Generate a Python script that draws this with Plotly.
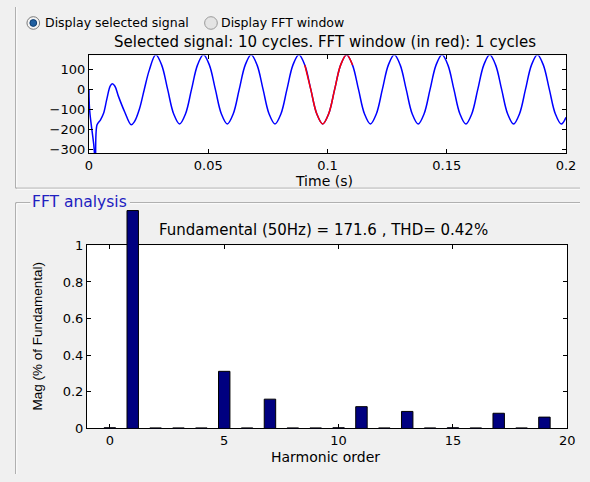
import plotly.graph_objects as go

W, H = 590, 482
FONT = "DejaVu Sans"
FONT_NARROW = "Liberation Sans"

# ---------------- data ----------------
# Selected signal (10 cycles)
time_s = [0.0, 0.0003, 0.002, 0.0027, 0.0034, 0.0048, 0.0061, 0.0075, 0.0089, 0.0098,
          0.0109, 0.0123, 0.015, 0.0177, 0.0191, 0.0212, 0.0232, 0.0253,
          0.028, 0.0305, 0.033, 0.0355, 0.038, 0.0405, 0.043, 0.0455,
          0.048, 0.0505, 0.053, 0.0555, 0.058, 0.0605, 0.063, 0.0655,
          0.068, 0.0705, 0.073, 0.0755, 0.078, 0.0805, 0.083, 0.0855,
          0.088, 0.0905, 0.093, 0.0955, 0.098, 0.1005, 0.103, 0.1055,
          0.108, 0.1105, 0.113, 0.1155, 0.118, 0.1205, 0.123, 0.1255,
          0.128, 0.1305, 0.133, 0.1355, 0.138, 0.1405, 0.143, 0.1455,
          0.148, 0.1505, 0.153, 0.1555, 0.158, 0.1605, 0.163, 0.1655,
          0.168, 0.1705, 0.173, 0.1755, 0.178, 0.1805, 0.183, 0.1855,
          0.188, 0.1905, 0.193, 0.1955, 0.198, 0.2]
signal = [0, -104, -272, -360, -176, -152, -120, -48, 16, 28,
          16, -32, -112, -176, -160, -96, 0, 96,
          172, 121, 0, -121, -172, -121, 0, 121,
          172, 121, 0, -121, -172, -121, 0, 121,
          172, 121, 0, -121, -172, -121, 0, 121,
          172, 121, 0, -121, -172, -121, 0, 121,
          172, 121, 0, -121, -172, -121, 0, 121,
          172, 121, 0, -121, -172, -121, 0, 121,
          172, 121, 0, -121, -172, -121, 0, 121,
          172, 121, 0, -121, -172, -121, 0, 121,
          172, 121, 0, -121, -172, -139]

fft_window = [0.09, 0.111]   # 1 cycle shown in red

time_ticks = [0, 0.05, 0.1, 0.15, 0.2]
time_tick_text = ["0", "0.05", "0.1", "0.15", "0.2"]
sig_ticks = [-300, -200, -100, 0, 100]

harmonic = [0, 1, 2, 3, 4, 5, 6, 7, 8, 9, 10, 11, 12, 13, 14, 15, 16, 17, 18, 19]
mag = [0.004, 1.19, 0.003, 0.003, 0.003, 0.312, 0.003, 0.16, 0.003, 0.003,
       0.004, 0.119, 0.003, 0.093, 0.003, 0.004, 0.003, 0.083, 0.003, 0.062]
harm_ticks = [0, 5, 10, 15, 20]
mag_ticks = [0, 0.2, 0.4, 0.6, 0.8, 1]
mag_tick_text = ["0", "0.2", "0.4", "0.6", "0.8", "1"]

title_top = "Selected signal: 10 cycles. FFT window (in red): 1 cycles"
title_fft = "Fundamental (50Hz) = 171.6 , THD= 0.42%"

# ---------------- helpers ----------------
def px(x):
    return x / W

def py(y):
    return 1 - y / H

# pixel frames of the two axes boxes
TOP = dict(l=87, r=575.7, t=50, b=150.7)
BOT = dict(l=85, r=577, t=246, b=435)
MAG_RANGE = [0, 1]
BAR_TOP = 208.2   # fundamental bar runs out of the box, up to this pixel row
bar_range_top = MAG_RANGE[1] * (BOT["b"] - BAR_TOP) / (BOT["b"] - BOT["t"])

t_red = [t for t in time_s if fft_window[0] <= t <= fft_window[1]]
v_red = [v for t, v in zip(time_s, signal) if fft_window[0] <= t <= fft_window[1]]

fig = go.Figure()
fig.add_trace(go.Scatter(x=time_s, y=signal, mode="lines",
                         line=dict(color="#0000FF", width=1.5, shape="spline", smoothing=1),
                         xaxis="x", yaxis="y", showlegend=False, hoverinfo="skip"))
fig.add_trace(go.Scatter(x=t_red, y=v_red, mode="lines",
                         line=dict(color="#FF0000", width=1.5, shape="spline", smoothing=1),
                         xaxis="x", yaxis="y", showlegend=False, hoverinfo="skip"))
# empty trace so the FFT frame axes (x2/y2) get drawn
fig.add_trace(go.Scatter(x=[], y=[], mode="lines", xaxis="x2", yaxis="y2",
                         showlegend=False, hoverinfo="skip"))
fig.add_trace(go.Bar(x=harmonic, y=mag, width=0.5,
                     marker=dict(color="#000080", line=dict(color="black", width=1)),
                     xaxis="x3", yaxis="y3", showlegend=False, hoverinfo="skip"))

ax = dict(showgrid=False, zeroline=False, showline=True, linecolor="black", linewidth=1,
          mirror="ticks", ticks="inside", ticklen=4, tickcolor="black",
          tickfont=dict(family=FONT, size=13, color="black"), fixedrange=True)

fig.update_layout(
    width=W, height=H, margin=dict(l=0, r=0, t=0, b=0),
    paper_bgcolor="#F0F0F0", plot_bgcolor="rgba(0,0,0,0)", showlegend=False,
    xaxis=dict(ax, domain=[px(TOP["l"]), px(TOP["r"])], range=[0, 0.2], tickvals=time_ticks,
               ticktext=time_tick_text, anchor="y"),
    yaxis=dict(ax, domain=[py(TOP["b"]), py(TOP["t"])], range=[-316, 169], tickvals=sig_ticks,
               anchor="x"),
    # frame of the FFT axes
    xaxis2=dict(ax, domain=[px(BOT["l"]), px(BOT["r"])], range=[-1, 20], tickvals=harm_ticks,
                anchor="y2"),
    yaxis2=dict(ax, domain=[py(BOT["b"]), py(BOT["t"])], range=MAG_RANGE, tickvals=mag_ticks,
                ticktext=mag_tick_text, anchor="x2"),
    # same scale, taller box, for the bars (fundamental overflows the frame)
    xaxis3=dict(visible=False, domain=[px(BOT["l"]), px(BOT["r"])], range=[-1, 20],
                anchor="y3", fixedrange=True),
    yaxis3=dict(visible=False, domain=[py(BOT["b"]), py(BAR_TOP)], range=[0, bar_range_top],
                anchor="x3", fixedrange=True),
)

def label(x, y, text, size=15, color="black", angle=0, xanchor="center", family=FONT):
    fig.add_annotation(x=px(x), y=py(y), xref="paper", yref="paper", text=text,
                       showarrow=False, xanchor=xanchor, yanchor="middle", textangle=angle,
                       font=dict(family=family, size=size, color=color), borderpad=0)

label(329, 36, title_top)
label(328, 179.5, "Time (s)", size=14)
label(327, 230, title_fft)
label(329, 464.5, "Harmonic order", size=14)
label(34, 340, "Mag (% of Fundamental)", size=13.5, angle=-90, family=FONT_NARROW)
label(28, 201, "FFT analysis", size=15.5, color="#2020C0", xanchor="left")
label(41, 16, "Display selected signal", size=12.5, xanchor="left")
label(221, 16, "Display FFT window", size=12.5, xanchor="left")

shapes = []
def rect(box, fill):
    shapes.append(dict(type="rect", xref="paper", yref="paper", layer="below",
                       x0=px(box["l"]), x1=px(box["r"]), y0=py(box["b"]), y1=py(box["t"]),
                       fillcolor=fill, line=dict(width=0)))

rect(TOP, "white")
rect(BOT, "white")

def line(x0, y0, x1, y1, color):
    shapes.append(dict(type="line", xref="paper", yref="paper", x0=px(x0), y0=py(y0),
                       x1=px(x1), y1=py(y1), line=dict(color=color, width=1)))

# etched panel borders
line(12, 0, 12, 187, "#A0A0A0"); line(13, 0, 13, 186, "#FFFFFF")
line(12, 187, 590, 187, "#A0A0A0"); line(13, 188, 590, 188, "#FFFFFF")
line(12, 202, 27, 202, "#A0A0A0"); line(13, 203, 27, 203, "#FFFFFF")
line(129, 202, 590, 202, "#A0A0A0"); line(129, 203, 590, 203, "#FFFFFF")
line(12, 202, 12, 482, "#A0A0A0"); line(13, 203, 13, 482, "#FFFFFF")

def circle(cx, cy, r, fill, edge):
    shapes.append(dict(type="circle", xref="paper", yref="paper",
                       x0=px(cx - r), x1=px(cx + r), y0=py(cy + r), y1=py(cy - r),
                       fillcolor=fill, line=dict(color=edge, width=1)))

circle(30, 16.5, 6.5, "#F4F4F4", "#7A7A7A")
circle(30, 16.5, 3.5, "#1F5FA0", "#0D3D70")
circle(212, 16.5, 6.5, "#E4E4E4", "#9A9A9A")

fig.update_layout(shapes=shapes)
fig.write_html("out.html", config={"displayModeBar": False},
               post_script="document.body.style.margin='0';"
                           "document.body.style.overflow='hidden';"
                           "document.documentElement.style.overflow='hidden';")
